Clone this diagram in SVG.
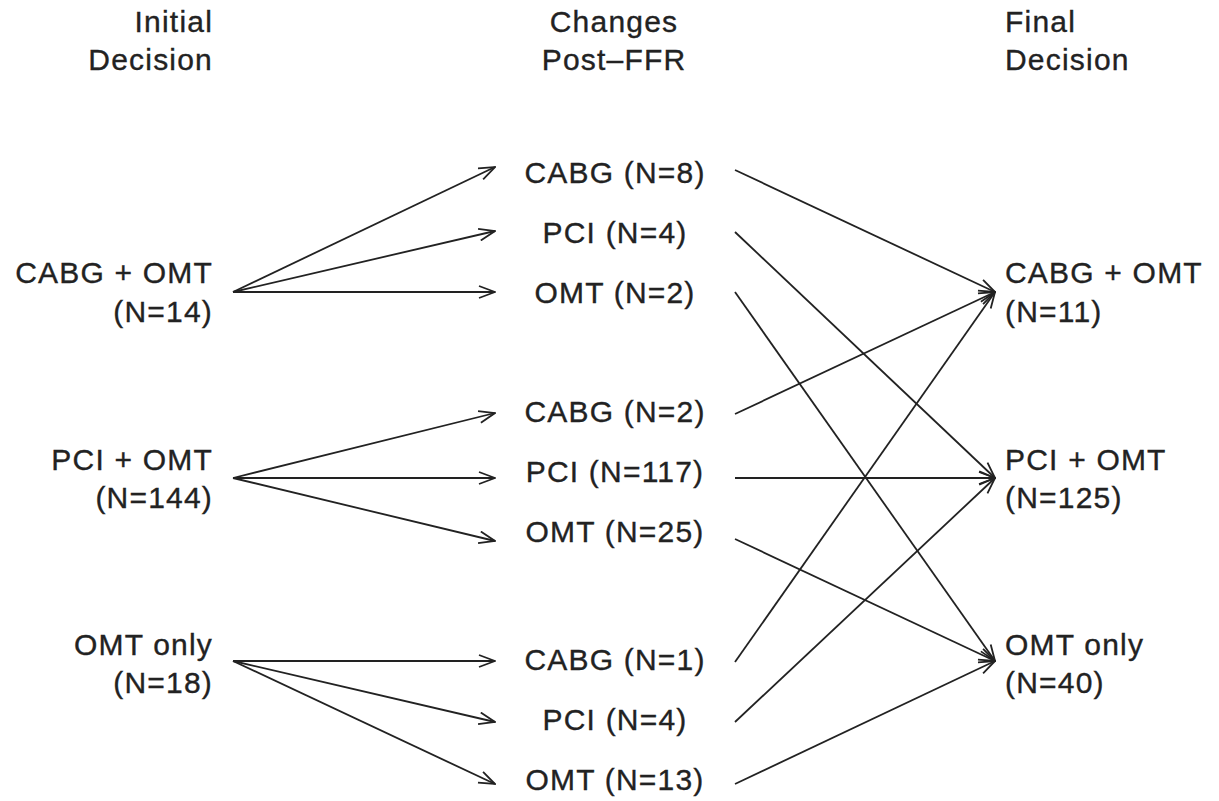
<svg xmlns="http://www.w3.org/2000/svg" width="1219" height="801" viewBox="0 0 1219 801">
<style>
text{font-family:"Liberation Sans",Arial,sans-serif;font-size:30px;fill:#222;letter-spacing:1.2px;stroke:#222;stroke-width:0.35}
.r{text-anchor:end}.m{text-anchor:middle}.l{text-anchor:start}
.c line{stroke:#222;stroke-width:1.8;marker-end:url(#ah)}
</style>
<defs>
<marker id="ah" viewBox="0 0 18 14" refX="17" refY="7" markerWidth="18" markerHeight="14" markerUnits="userSpaceOnUse" orient="auto">
<path d="M1,1 L17,7 L1,13" fill="none" stroke="#222" stroke-width="1.8"/>
</marker>
</defs>
<rect width="1219" height="801" fill="#fff"/>
<g id="headers">
<text class="r" x="213" y="32">Initial</text>
<text class="r" x="213" y="70">Decision</text>
<text class="m" x="614" y="32">Changes</text>
<text class="m" x="614" y="70">Post–FFR</text>
<text class="l" x="1005" y="32">Final</text>
<text class="l" x="1005" y="70">Decision</text>
</g>
<g id="init-cabg"><text class="r" x="213" y="283">CABG + OMT</text><text class="r" x="213" y="322">(N=14)</text></g>
<g id="init-pci"><text class="r" x="213" y="470">PCI + OMT</text><text class="r" x="213" y="508">(N=144)</text></g>
<g id="init-omt"><text class="r" x="213" y="655">OMT only</text><text class="r" x="213" y="693">(N=18)</text></g>
<g id="m1"><text class="m" x="615" y="183">CABG (N=8)</text></g>
<g id="m2"><text class="m" x="615" y="243">PCI (N=4)</text></g>
<g id="m3"><text class="m" x="615" y="303">OMT (N=2)</text></g>
<g id="m4"><text class="m" x="615" y="422">CABG (N=2)</text></g>
<g id="m5"><text class="m" x="615" y="482">PCI (N=117)</text></g>
<g id="m6"><text class="m" x="615" y="542">OMT (N=25)</text></g>
<g id="m7"><text class="m" x="615" y="670">CABG (N=1)</text></g>
<g id="m8"><text class="m" x="615" y="730">PCI (N=4)</text></g>
<g id="m9"><text class="m" x="615" y="790">OMT (N=13)</text></g>
<g id="final-cabg"><text class="l" x="1005" y="283">CABG + OMT</text><text class="l" x="1005" y="322">(N=11)</text></g>
<g id="final-pci"><text class="l" x="1005" y="470">PCI + OMT</text><text class="l" x="1005" y="508">(N=125)</text></g>
<g id="final-omt"><text class="l" x="1005" y="655">OMT only</text><text class="l" x="1005" y="693">(N=40)</text></g>
<g id="connectors" class="c">
<line x1="233" y1="292" x2="495" y2="167"/>
<line x1="233" y1="292" x2="495" y2="231"/>
<line x1="233" y1="292" x2="495" y2="292"/>
<line x1="233" y1="478" x2="495" y2="413"/>
<line x1="233" y1="478" x2="495" y2="478"/>
<line x1="233" y1="478" x2="495" y2="541"/>
<line x1="233" y1="661" x2="495" y2="661"/>
<line x1="233" y1="661" x2="495" y2="722"/>
<line x1="233" y1="661" x2="495" y2="784"/>
<line x1="735" y1="170" x2="995" y2="292"/>
<line x1="735" y1="232" x2="995" y2="478"/>
<line x1="735" y1="292" x2="995" y2="661"/>
<line x1="735" y1="414" x2="995" y2="292"/>
<line x1="735" y1="478" x2="995" y2="478"/>
<line x1="735" y1="539" x2="995" y2="661"/>
<line x1="735" y1="662" x2="995" y2="292"/>
<line x1="735" y1="722" x2="995" y2="478"/>
<line x1="735" y1="784" x2="995" y2="661"/>
</g>
</svg>
